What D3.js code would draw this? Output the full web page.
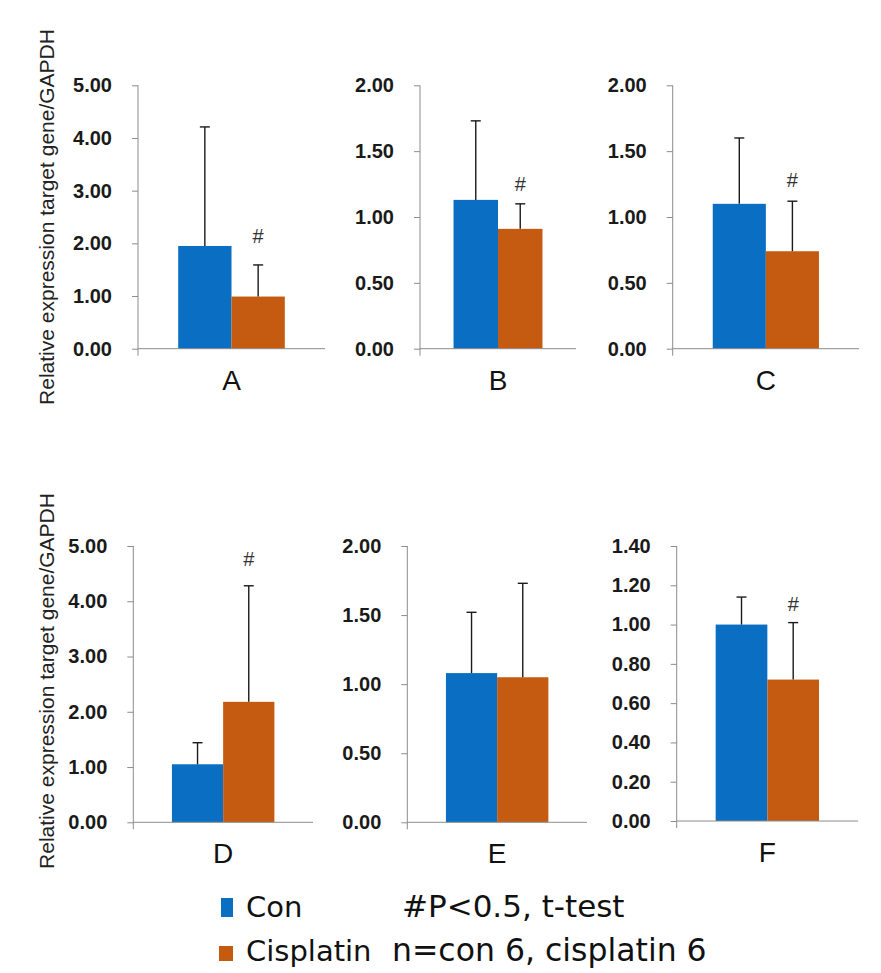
<!DOCTYPE html>
<html>
<head>
<meta charset="utf-8">
<script src="https://cdnjs.cloudflare.com/ajax/libs/d3/7.8.5/d3.min.js"></script>
<style>
  html, body { margin: 0; padding: 0; background: #fff; }
  svg { display: block; }
</style>
</head>
<body>
<svg id="chart" width="881" height="973"></svg>
<script>
// ---- data ----
const panels   = ["A", "B", "C", "D", "E", "F"];
const series   = ["Con", "Cisplatin"];
const conMean  = [1.95, 1.13, 1.10, 1.05, 1.08, 1.00];
const conUpper = [4.21, 1.73, 1.60, 1.44, 1.52, 1.14];
const cisMean  = [0.99, 0.91, 0.74, 2.18, 1.05, 0.72];
const cisUpper = [1.59, 1.10, 1.12, 4.28, 1.73, 1.01];
const yMax     = [5, 2, 2, 5, 2, 1.4];
const yStep    = [1, 0.5, 0.5, 1, 0.5, 0.2];
const sigMark  = ["#", "#", "#", "#", "", "#"];
const sigY     = [2.0, 1.2, 1.23, 4.64, 0, 1.07];
const yTitle   = "Relative expression target gene/GAPDH";
const legendNotes = ["#P<0.5, t-test", "n=con 6, cisplatin 6"];

// ---- layout (styling, not data) ----
const colors = { "Con": "#0A6EC2", "Cisplatin": "#C55A11" };
const boxes = [
  { x0: 138,   x1: 325, top: 85.3, bottom: 348.7 },
  { x0: 420,   x1: 576, top: 85.3, bottom: 348.7 },
  { x0: 672.7, x1: 859, top: 85.3, bottom: 348.7 },
  { x0: 133.3, x1: 313, top: 546,  bottom: 822.3 },
  { x0: 407.3, x1: 587, top: 546,  bottom: 822.3 },
  { x0: 676.7, x1: 858, top: 546,  bottom: 821 }
];

const svg = d3.select("#chart");
svg.append("rect").attr("width", 881).attr("height", 973).attr("fill", "#fff");

const fmt = d3.format(".2f");

panels.forEach((p, i) => {
  const b = boxes[i];
  const g = svg.append("g");
  const y = d3.scaleLinear().domain([0, yMax[i]]).range([b.bottom, b.top]);
  const x0 = d3.scaleBand().domain([p]).range([b.x0, b.x1]).paddingInner(0).paddingOuter(0.377);
  const x1 = d3.scaleBand().domain(series).range([0, x0.bandwidth()]);
  const ticks = d3.range(0, Math.round(yMax[i] / yStep[i]) + 1).map(k => +(k * yStep[i]).toFixed(4));

  // y axis
  const ya = g.append("g")
    .attr("transform", `translate(${b.x0},0)`)
    .call(d3.axisLeft(y).tickValues(ticks).tickFormat(fmt).tickSize(6).tickSizeOuter(0).tickPadding(20));
  ya.select(".domain").remove();
  ya.selectAll(".tick line").attr("stroke", "#8c8c8c");
  ya.selectAll(".tick text")
    .attr("font-family", "'Liberation Sans', Arial, sans-serif")
    .attr("font-weight", "bold").attr("font-size", 20).attr("fill", "#1a1a1a");
  g.append("line")
    .attr("x1", b.x0).attr("x2", b.x0).attr("y1", b.top).attr("y2", b.bottom + 7)
    .attr("stroke", "#8c8c8c").attr("stroke-width", 1);

  // bars
  const vals = [conMean[i], cisMean[i]];
  const ups = [conUpper[i], cisUpper[i]];
  series.forEach((s, j) => {
    const bx = x0(p) + x1(s);
    g.append("rect")
      .attr("x", bx).attr("width", x1.bandwidth())
      .attr("y", y(vals[j])).attr("height", y(0) - y(vals[j]))
      .attr("fill", colors[s]);
    const cx = bx + x1.bandwidth() / 2;
    g.append("line")
      .attr("x1", cx).attr("x2", cx).attr("y1", y(vals[j])).attr("y2", y(ups[j]))
      .attr("stroke", "#1a1a1a").attr("stroke-width", 1.4);
    g.append("line")
      .attr("x1", cx - 5).attr("x2", cx + 5).attr("y1", y(ups[j])).attr("y2", y(ups[j]))
      .attr("stroke", "#1a1a1a").attr("stroke-width", 1.4);
  });

  // x axis line
  g.append("line")
    .attr("x1", b.x0).attr("x2", b.x1).attr("y1", y(0)).attr("y2", y(0))
    .attr("stroke", "#8c8c8c").attr("stroke-width", 1);

  // category label
  const xa = g.append("g")
    .attr("transform", `translate(0,${y(0)})`)
    .call(d3.axisBottom(x0).tickSize(0).tickPadding(21));
  xa.select(".domain").remove();
  xa.selectAll(".tick text")
    .attr("font-family", "'Liberation Sans', Arial, sans-serif")
    .attr("font-size", 28).attr("fill", "#111");

  // significance mark
  if (sigMark[i]) {
    g.append("text")
      .attr("x", x0(p) + x1("Cisplatin") + x1.bandwidth() / 2)
      .attr("y", y(sigY[i]))
      .attr("text-anchor", "middle")
      .attr("font-family", "'Liberation Sans', Arial, sans-serif")
      .attr("font-size", 20).attr("fill", "#333")
      .text(sigMark[i]);
  }
});

// y titles
[217, 681].forEach(cy => {
  svg.append("text")
    .attr("transform", `translate(54,${cy}) rotate(-90)`)
    .attr("text-anchor", "middle")
    .attr("font-family", "'Liberation Sans', Arial, sans-serif")
    .attr("font-size", 21).attr("fill", "#222")
    .text(yTitle);
});

// legend
const legFont = "'DejaVu Sans', Verdana, sans-serif";
const legRows = [
  { s: "Con", base: 917, sq: [221, 898, 12, 19] },
  { s: "Cisplatin", base: 961, sq: [219, 946, 14, 15] }
];
legRows.forEach((r, k) => {
  svg.append("rect").attr("x", r.sq[0]).attr("y", r.sq[1]).attr("width", r.sq[2]).attr("height", r.sq[3])
    .attr("fill", colors[r.s]);
  svg.append("text").attr("x", 246).attr("y", r.base)
    .attr("font-family", legFont).attr("font-size", 29).attr("fill", "#111").text(r.s);
});
svg.append("text").attr("x", 402).attr("y", 917)
  .attr("font-family", legFont).attr("font-size", 31).attr("fill", "#111").text(legendNotes[0]);
svg.append("text").attr("x", 392).attr("y", 961)
  .attr("font-family", legFont).attr("font-size", 31.5).attr("fill", "#111").text(legendNotes[1]);
</script>
</body>
</html>
